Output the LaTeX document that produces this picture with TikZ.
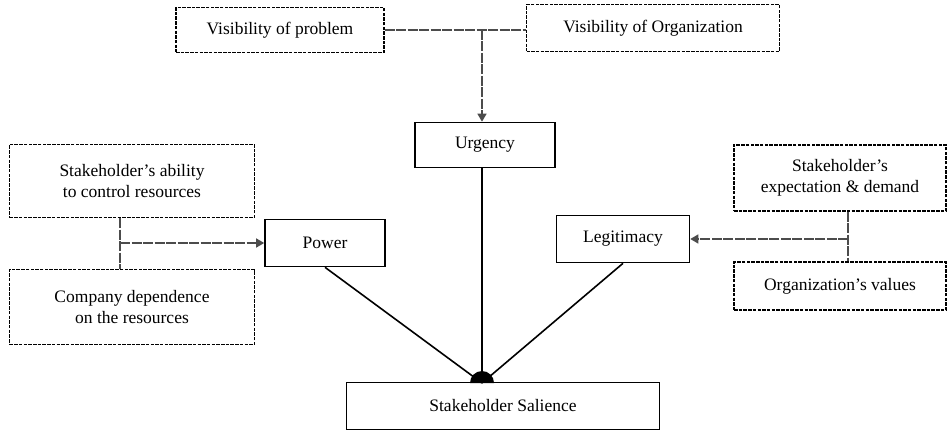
\documentclass[tikz,border=0pt]{standalone}
\usepackage{fontspec}
\setmainfont{Liberation Serif}
\usetikzlibrary{arrows.meta}
\begin{document}
\begin{tikzpicture}[x=1pt,y=-1pt,
  dbox/.style={draw, line width=1.3pt, dash pattern=on 3.5pt off 1.2pt, align=center, inner sep=0pt, font=\fontsize{17.5}{21}\selectfont},
  sbox/.style={draw, line width=1.6pt, align=center, inner sep=0pt, font=\fontsize{17.5}{21}\selectfont},
  conn/.style={draw=black!70, line width=1.4pt, dash pattern=on 10pt off 1.5pt},
  arr/.style={-{Triangle[length=8pt,width=9pt]}},
  link/.style={line width=1.6pt}]
\useasboundingbox (0,0) rectangle (948,433);
% top boxes
\node[dbox, minimum width=208pt, minimum height=45pt] (vp) at (280,30) {Visibility of problem};
\node[dbox, minimum width=253pt, minimum height=47pt] (vo) at (653,28) {Visibility of Organization};
% middle
\node[sbox, minimum width=140pt, minimum height=45pt] (urg) at (485,145) {Urgency};
\node[sbox, minimum width=120pt, minimum height=47pt] (pow) at (325,243) {Power};
\node[sbox, minimum width=133pt, minimum height=47pt] (leg) at (623,239) {Legitimacy};
% left boxes
\node[dbox, minimum width=245pt, minimum height=73pt] (sa) at (132,181) {Stakeholder's ability\\to control resources};
\node[dbox, minimum width=245pt, minimum height=75pt] (cd) at (132,307) {Company dependence\\on the resources};
% right boxes
\node[dbox, minimum width=212pt, minimum height=66pt] (se) at (840,178) {Stakeholder's\\expectation \& demand};
\node[dbox, minimum width=212pt, minimum height=48pt] (ov) at (840,286) {Organization's values};
% bottom
\node[sbox, minimum width=313pt, minimum height=47pt] (sal) at (503,406) {Stakeholder Salience};
% connectors top
\coordinate (jt) at (482,30);
\draw[conn] (vp.east |- jt) -- (vo.west |- jt);
\draw[conn, arr] (jt) -- (jt |- urg.north);
% connectors left
\coordinate (jl) at (120,243);
\draw[conn] (jl |- sa.south) -- (jl |- cd.north);
\draw[conn, arr] (jl) -- (pow.west);
% connectors right
\coordinate (jr) at (848,239);
\draw[conn] (jr |- se.south) -- (jr |- ov.north);
\draw[conn, arr] (jr) -- (leg.east);
% links to salience
\coordinate (hub) at (482,383);
\fill (hub) ++(12,0) arc[start angle=0,end angle=-180,radius=12] -- cycle;
\draw[link] (pow.south) -- (hub);
\draw[link] (urg.south -| hub) -- (hub);
\draw[link] (leg.south) -- (hub);
\end{tikzpicture}
\end{document}
